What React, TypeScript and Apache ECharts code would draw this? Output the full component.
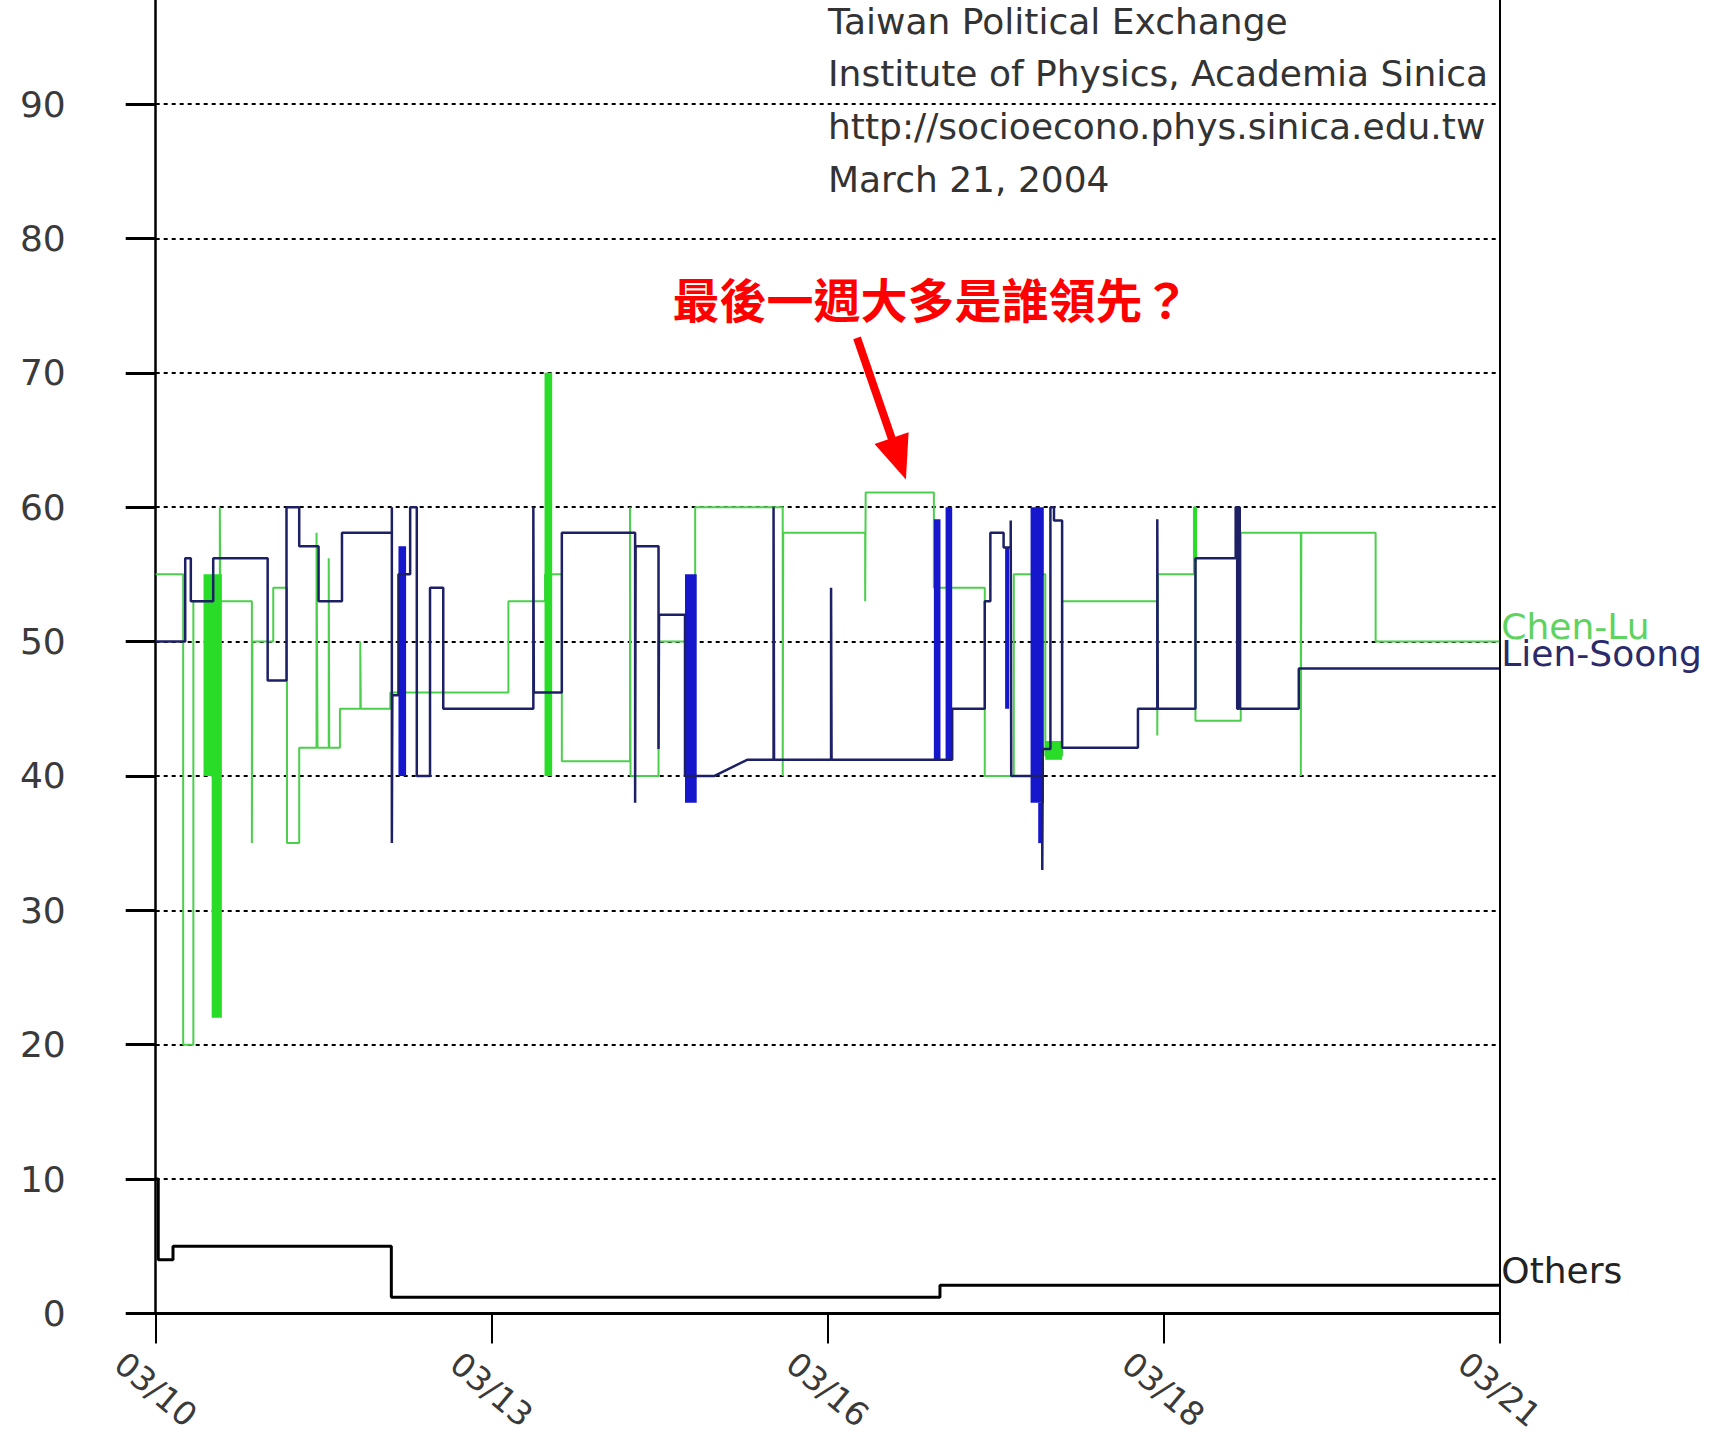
import React, { useEffect, useRef } from "react";
import * as echarts from "echarts";

// x values are hours after 03/10 12:00
const xTickLabels = ["03/10", "03/13", "03/16", "03/18", "03/21"];
const xTickStep = 66;
const xMax = 264;

const chenLu: [number, number][] = [
  [0, 55], [5.4, 55], [5.4, 20], [7.4, 20], [7.4, 53], [12.6, 53], [12.6, 60], [12.7, 53],
  [18.9, 53], [18.9, 35], [19.0, 50], [23.1, 50], [23.1, 54], [25.8, 54], [25.8, 35],
  [28.2, 35], [28.2, 42.1], [31.6, 42.1], [31.6, 58.1], [31.8, 42.1], [34.0, 42.1],
  [34.0, 56.2], [34.1, 42.1], [36.2, 42.1], [36.2, 45], [40.2, 45], [40.2, 50], [40.3, 45],
  [46.1, 45], [46.1, 46.2], [69.3, 46.2], [69.3, 53], [76.5, 53], [76.5, 55], [79.8, 55],
  [79.8, 41.1], [93.2, 41.1], [93.2, 60], [93.3, 40], [98.8, 40], [98.8, 50], [106.0, 50],
  [106.0, 60], [123.2, 60], [123.2, 40], [123.3, 58.1], [139.4, 58.1], [139.4, 53],
  [139.5, 61.1], [152.9, 61.1], [152.9, 54], [162.9, 54], [162.9, 40], [168.6, 40],
  [168.6, 55], [174.8, 55], [174.8, 41.5], [178.1, 41.5], [178.1, 53], [196.8, 53],
  [196.8, 43], [196.9, 55], [204.0, 55], [204.0, 60], [204.3, 60], [204.3, 44.1],
  [213.2, 44.1], [213.2, 58.1], [225.0, 58.1], [225.0, 40], [225.1, 58.1], [239.7, 58.1],
  [239.7, 50], [264, 50],
];

const lienSoong: [number, number][] = [
  [0, 50], [5.8, 50], [5.8, 56.2], [6.9, 56.2], [6.9, 53], [11.3, 53], [11.3, 56.2],
  [22.0, 56.2], [22.0, 47.1], [25.7, 47.1], [25.7, 60], [28.2, 60], [28.2, 57.1],
  [32.0, 57.1], [32.0, 53], [36.6, 53], [36.6, 58.1], [46.4, 58.1], [46.4, 60], [46.4, 35],
  [46.5, 46], [47.7, 46], [47.7, 55], [50.0, 55], [50.0, 60], [51.3, 60], [51.3, 40],
  [53.9, 40], [53.9, 54], [56.5, 54], [56.5, 45], [74.2, 45], [74.2, 60], [74.3, 46.2],
  [79.8, 46.2], [79.8, 58.1], [94.2, 58.1], [94.2, 38], [94.3, 57.1], [98.8, 57.1],
  [98.8, 42], [98.9, 52], [104.0, 52], [104.0, 40], [109.8, 40], [116.2, 41.2],
  [121.4, 41.2], [121.4, 60], [121.5, 41.2], [132.7, 41.2], [132.7, 54], [132.8, 41.2],
  [156.5, 41.2], [156.5, 45], [162.9, 45], [162.9, 53], [164.0, 53], [164.0, 58.1],
  [166.6, 58.1], [166.6, 57], [168.0, 57], [168.0, 59], [168.1, 40], [171.9, 40],
  [174.2, 40], [174.2, 33], [174.3, 42], [175.8, 42], [175.8, 60], [176.5, 60],
  [176.5, 59], [178.1, 59], [178.1, 42.1], [193.0, 42.1], [193.0, 45], [196.8, 45],
  [196.8, 59.1], [196.9, 45], [204.3, 45], [204.3, 56.2], [212.2, 56.2], [212.2, 60],
  [212.5, 60], [212.5, 45], [212.8, 45], [212.8, 60], [213.0, 60], [213.0, 45],
  [224.6, 45], [224.6, 48], [264, 48],
];

const others: [number, number][] = [
  [0, 10], [0.5, 10], [0.5, 4], [3.4, 4], [3.4, 5], [46.3, 5], [46.3, 1.2],
  [154.1, 1.2], [154.1, 2.1], [264, 2.1],
];

// dense trading bursts: [start hour, end hour, low, high]
const chenLuBursts: number[][] = [
  [9.4, 13.0, 40, 55],
  [11.0, 13.0, 22, 40],
  [76.4, 77.9, 40, 70],
  [174.8, 178.1, 41.2, 42.6],
  [204.0, 204.6, 56, 60],
];

const lienSoongBursts: number[][] = [
  [47.7, 49.2, 40, 57.1],
  [104.0, 106.3, 38, 55],
  [152.9, 154.2, 41.2, 59.1],
  [155.2, 156.5, 41.2, 60],
  [166.9, 167.7, 45, 57],
  [171.9, 174.5, 38, 60],
  [173.4, 174.3, 35, 38],
];

const creditLines = [
  "Taiwan Political Exchange",
  "Institute of Physics, Academia Sinica",
  "http://socioecono.phys.sinica.edu.tw",
  "March 21, 2004",
];
const question = "最後一週大多是誰領先？";
const arrowFrom = [137.8, 72.6];
const arrowTo = [146.0, 63.6];

const FONT = '"DejaVu Sans", Verdana, sans-serif';

function burstSeries(name: string, data: number[][], color: string) {
  return {
    name,
    type: "custom",
    data,
    encode: { x: [0, 1], y: [2, 3] },
    z: 3,
    silent: true,
    renderItem: (_p: any, api: any) => {
      const tl = api.coord([api.value(0), api.value(3)]);
      const br = api.coord([api.value(1), api.value(2)]);
      return {
        type: "rect",
        shape: { x: tl[0], y: tl[1], width: Math.max(1, br[0] - tl[0]), height: br[1] - tl[1] },
        style: { fill: color },
      };
    },
  };
}

function endLabel(text: string, color: string) {
  return {
    show: true,
    formatter: text,
    color,
    fontSize: 36,
    fontFamily: FONT,
    lineHeight: 26,
    distance: 2,
    align: "left",
    verticalAlign: "middle",
    offset: [0, -15],
  };
}

export default function App() {
  const ref = useRef<HTMLDivElement>(null);
  useEffect(() => {
    if (!ref.current) return;
    const chart = echarts.init(ref.current, null, { renderer: "svg" });
    const option: any = {
      animation: false,
      backgroundColor: "#ffffff",
      grid: {
        left: 155.7,
        right: 219.7,
        top: -30.3,
        bottom: 126.6,
        containLabel: false,
        outerBoundsMode: "none",
      },
      xAxis: {
        type: "value",
        min: 0,
        max: xMax,
        interval: xTickStep,
        axisLine: { onZero: false, lineStyle: { color: "#000", width: 3 } },
        axisTick: { length: 30, lineStyle: { color: "#000", width: 2 } },
        axisLabel: {
          rotate: -40,
          margin: 76,
          align: "center",
          verticalAlign: "middle",
          fontSize: 33,
          fontFamily: FONT,
          color: "#3a3a3a",
          hideOverlap: false,
          formatter: (v: number) => xTickLabels[Math.round(v / xTickStep)] ?? "",
        },
        splitLine: { show: false },
      },
      yAxis: [
        {
          type: "value",
          min: 0,
          max: 100,
          interval: 10,
          axisLine: { show: true, onZero: false, lineStyle: { color: "#000", width: 2.5 } },
          axisTick: { show: true, length: 30, lineStyle: { color: "#000", width: 3 } },
          axisLabel: {
            margin: 90,
            fontSize: 36,
            fontFamily: FONT,
            color: "#3a3a3a",
            formatter: (v: number) => (v >= 100 ? "" : String(v)),
          },
          splitLine: { show: true, lineStyle: { color: "#000", width: 1.8, type: [4, 4] } },
        },
        {
          type: "value",
          position: "right",
          min: 0,
          max: 100,
          interval: 10,
          axisLine: { show: true, onZero: false, lineStyle: { color: "#000", width: 2 } },
          axisTick: { show: false },
          axisLabel: { show: false },
          splitLine: { show: false },
        },
      ],
      series: [
        {
          name: "Chen-Lu",
          type: "line",
          data: chenLu,
          showSymbol: false,
          silent: true,
          z: 2,
          lineStyle: { color: "#4ccf4c", width: 2 },
          endLabel: endLabel("Chen-Lu", "#5fd35f"),
        },
        {
          name: "Lien-Soong",
          type: "line",
          data: lienSoong,
          showSymbol: false,
          silent: true,
          z: 4,
          lineStyle: { color: "#1e2066", width: 2.5 },
          endLabel: endLabel("Lien-Soong", "#2b2b6b"),
        },
        {
          name: "Others",
          type: "line",
          data: others,
          showSymbol: false,
          silent: true,
          z: 4,
          lineStyle: { color: "#000", width: 3 },
          endLabel: endLabel("Others", "#222"),
          markLine: {
            silent: true,
            symbol: ["none", "triangle"],
            symbolSize: [36, 44],
            lineStyle: { color: "#ff0000", width: 8, type: "solid" },
            itemStyle: { color: "#ff0000" },
            label: { show: false },
            data: [[{ coord: arrowFrom }, { coord: arrowTo }]],
          },
        },
        burstSeries("Chen-Lu bursts", chenLuBursts, "#28dc28"),
        burstSeries("Lien-Soong bursts", lienSoongBursts, "#1616cc"),
      ],
      graphic: [
        ...creditLines.map((t, i) => ({
          type: "text",
          x: 828,
          y: 21 + i * 52.7,
          silent: true,
          style: {
            text: t,
            fontSize: 36,
            fontFamily: FONT,
            fill: "#333",
            align: "left",
            verticalAlign: "middle",
          },
        })),
        {
          type: "text",
          x: 931,
          y: 297,
          silent: true,
          style: {
            text: question,
            fontSize: 47,
            fontWeight: "bold",
            fontFamily: '"Noto Sans CJK TC", "Noto Sans CJK SC", sans-serif',
            fill: "#ff0000",
            align: "center",
            verticalAlign: "middle",
          },
        },
      ],
    };
    chart.setOption(option);
    return () => chart.dispose();
  }, []);
  return (
    <div
      ref={ref}
      style={{ position: "absolute", left: 0, top: 0, width: 1719, height: 1440, background: "#fff" }}
    />
  );
}
